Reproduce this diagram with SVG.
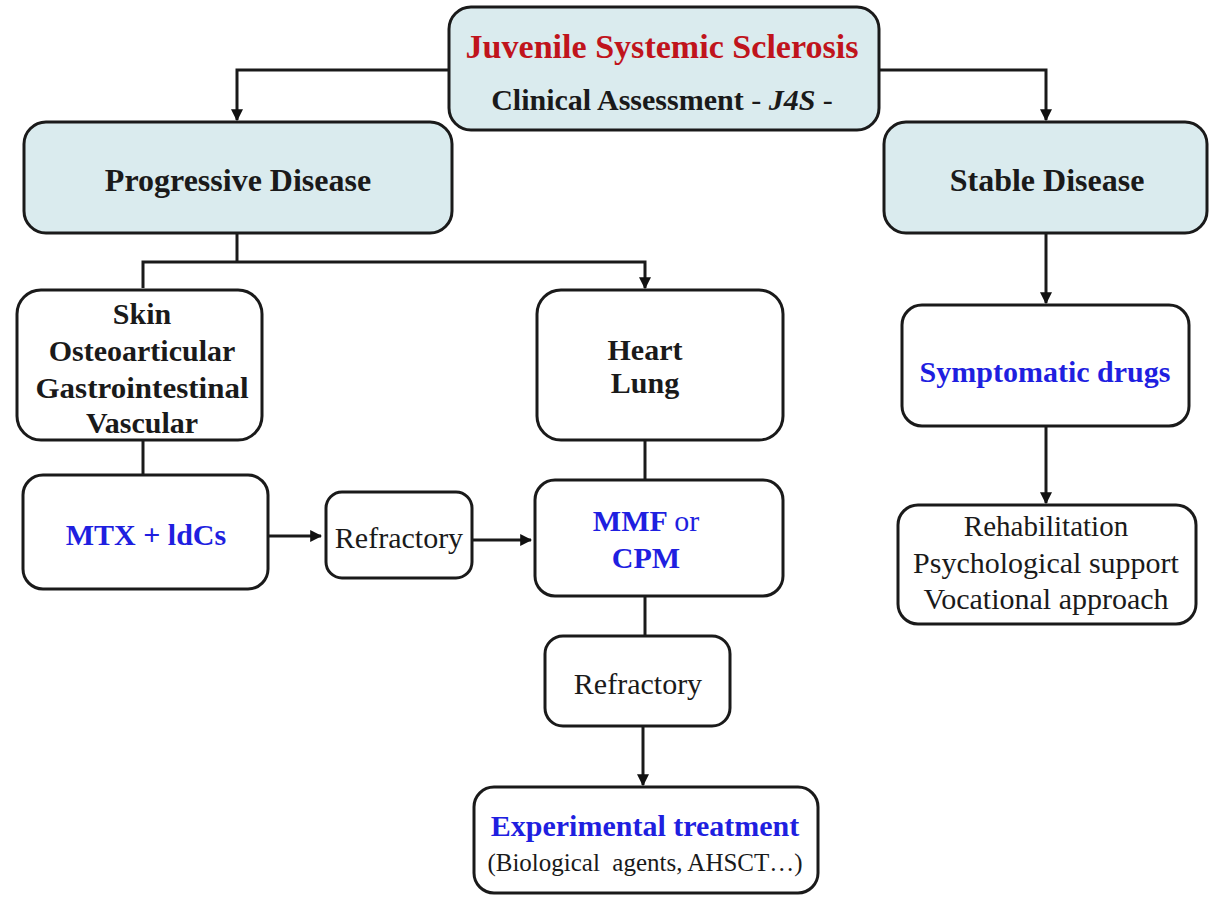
<svg xmlns="http://www.w3.org/2000/svg" width="1211" height="897" viewBox="0 0 1211 897">
<defs>
<marker id="ah" viewBox="0 0 10 10" refX="9" refY="5" markerWidth="4" markerHeight="4" orient="auto" markerUnits="strokeWidth">
<path d="M0,0 L10,5 L0,10 z" fill="#111"/>
</marker>
<style>
.box{fill:#fff;stroke:#1a1a1a;stroke-width:3}
.hd{fill:#daebee;stroke:#1a1a1a;stroke-width:3}
.con{fill:none;stroke:#1a1a1a;stroke-width:3}
.arr{fill:none;stroke:#1a1a1a;stroke-width:3;marker-end:url(#ah)}
text{font-family:"Liberation Serif","Times New Roman",serif;text-anchor:middle}
.b{font-weight:bold;fill:#1a1a1a}
.r{fill:#1a1a1a}
.blue{fill:#1f1fe0;font-weight:bold}
.red{fill:#c0141c;font-weight:bold}
</style>
</defs>
<rect width="1211" height="897" fill="#fff"/>
<g id="connectors">
<polyline class="arr" points="449,70 237,70 237,120"/>
<polyline class="arr" points="879,70 1046,70 1046,120"/>
<line class="con" x1="237" y1="233" x2="237" y2="262"/>
<polyline class="arr" points="143,288 143,262 645,262 645,288"/>
<line class="con" x1="143" y1="440" x2="143" y2="475"/>
<line class="arr" x1="268" y1="536" x2="321" y2="536"/>
<line class="arr" x1="472" y1="540" x2="531" y2="540"/>
<line class="con" x1="645" y1="440" x2="645" y2="480"/>
<line class="con" x1="645" y1="596" x2="645" y2="636"/>
<line class="arr" x1="643" y1="726" x2="643" y2="785"/>
<line class="arr" x1="1046" y1="233" x2="1046" y2="303"/>
<line class="arr" x1="1046" y1="426" x2="1046" y2="503"/>
</g>
<g id="top">
<rect class="hd" x="449" y="7" width="430" height="123" rx="22"/>
<text class="red" x="662" y="58" font-size="33" textLength="393" lengthAdjust="spacingAndGlyphs">Juvenile Systemic Sclerosis</text>
<text class="b" x="662" y="110" font-size="30">Clinical Assessment <tspan font-weight="normal">- </tspan><tspan font-style="italic">J4S</tspan><tspan font-weight="normal"> -</tspan></text>
</g>
<g id="progressive">
<rect class="hd" x="24" y="122" width="428" height="111" rx="22"/>
<text class="b" x="238" y="191" font-size="32">Progressive Disease</text>
</g>
<g id="stable">
<rect class="hd" x="884" y="122" width="323" height="111" rx="22"/>
<text class="b" x="1047" y="191" font-size="32">Stable Disease</text>
</g>
<g id="skin">
<rect class="box" x="17" y="290" width="245" height="150" rx="24"/>
<text class="b" x="142" y="324" font-size="30">Skin</text>
<text class="b" x="142" y="361" font-size="30">Osteoarticular</text>
<text class="b" x="142" y="398" font-size="30" textLength="213" lengthAdjust="spacingAndGlyphs">Gastrointestinal</text>
<text class="b" x="142" y="433" font-size="30">Vascular</text>
</g>
<g id="heart">
<rect class="box" x="537" y="290" width="246" height="150" rx="24"/>
<text class="b" x="645" y="360" font-size="30">Heart</text>
<text class="b" x="645" y="393" font-size="30">Lung</text>
</g>
<g id="mtx">
<rect class="box" x="23" y="475" width="245" height="114" rx="20"/>
<text class="blue" x="146" y="545" font-size="30">MTX + ldCs</text>
</g>
<g id="refractory1">
<rect class="box" x="326" y="492" width="146" height="86" rx="16"/>
<text class="r" x="399" y="548" font-size="30">Refractory</text>
</g>
<g id="mmf">
<rect class="box" x="535" y="480" width="248" height="116" rx="20"/>
<text class="blue" x="646" y="531" font-size="30">MMF <tspan font-weight="normal">or</tspan></text>
<text class="blue" x="646" y="568" font-size="30">CPM</text>
</g>
<g id="refractory2">
<rect class="box" x="545" y="636" width="185" height="90" rx="18"/>
<text class="r" x="638" y="694" font-size="30">Refractory</text>
</g>
<g id="experimental">
<rect class="box" x="474" y="787" width="344" height="106" rx="20"/>
<text class="blue" x="645" y="836" font-size="30">Experimental treatment</text>
<text class="r" x="645" y="871" font-size="25">(Biological&#160; agents, AHSCT…)</text>
</g>
<g id="symptomatic">
<rect class="box" x="902" y="305" width="287" height="121" rx="20"/>
<text class="blue" x="1045" y="382" font-size="30">Symptomatic drugs</text>
</g>
<g id="rehab">
<rect class="box" x="898" y="505" width="298" height="119" rx="20"/>
<text class="r" x="1046" y="536" font-size="29">Rehabilitation</text>
<text class="r" x="1046" y="573" font-size="30">Psychological support</text>
<text class="r" x="1046" y="609" font-size="30">Vocational approach</text>
</g>
</svg>
